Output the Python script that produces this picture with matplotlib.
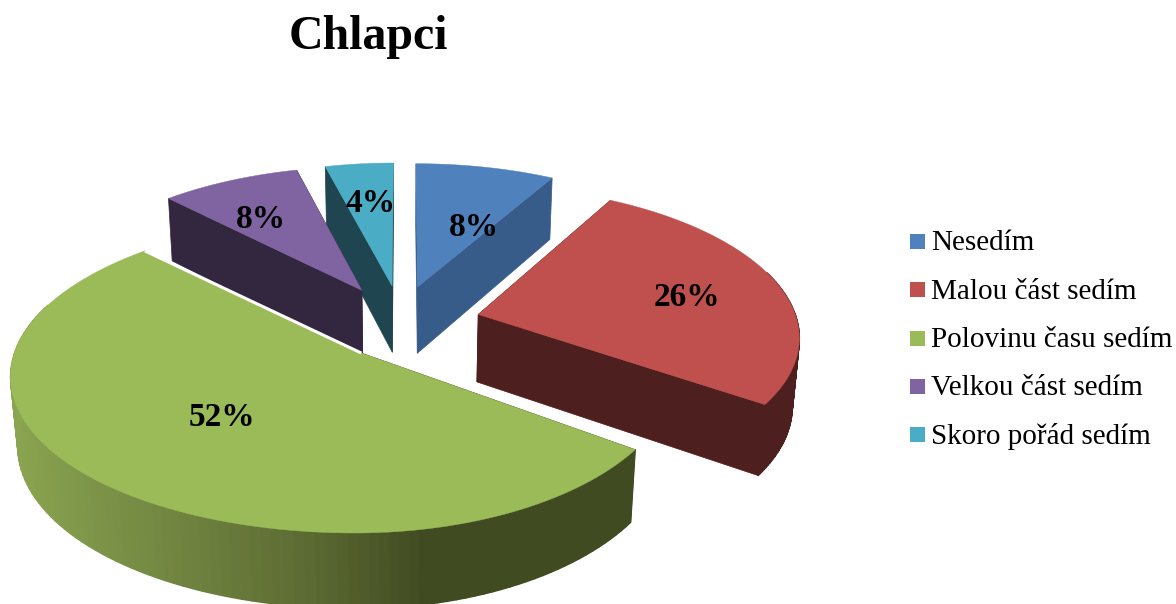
import matplotlib
matplotlib.use('Agg')
import matplotlib.pyplot as plt
from matplotlib.collections import PolyCollection
from matplotlib.patches import Rectangle
import numpy as np

title = 'Chlapci'
categories = ['Nesedím', 'Malou část sedím', 'Polovinu času sedím', 'Velkou část sedím', 'Skoro pořád sedím']
values = [8, 26, 52, 8, 4]

top_colors = ['#4f81bd', '#c0504d', '#9bbb59', '#8064a2', '#4bacc6']
wall_colors = ['#385c89', '#4d1f1e', '#404b21', '#33273f', '#1f4650']

# pie geometry, in pixels of the figure
CX, CY = 403, 323
RX, RY = 338, 148
DEPTH = 69
EXPLODE_Y = 0.26
PERSP = 0.13
PERSP_Z = 0.018
# sideways pull and horizontal rim scale of each slice
explode_x = [0.175, 0.23, 0.185, 0.255, 0.26]
rim_left = [1, 1, 1.0, 0.94, 0.92]
rim_right = [0.94, 0.945, 0.90, 1, 1]

# where each percentage sits
label_x = [474, 687, 222, 261, 371]
label_y = [228, 297, 418, 220, 203]


def project(x, y, z):
    w = 1 + PERSP * y + PERSP_Z * z
    return CX + RX * x / w, CY - RY * y / w + DEPTH * z / w


def green_side(px):
    # side of the big slice goes dark from left to right
    knots = [13, 300, 430]
    r = np.interp(px, knots, [0x8a, 0x5e, 0x40])
    g = np.interp(px, knots, [0xa4, 0x6d, 0x4b])
    b = np.interp(px, knots, [0x50, 0x34, 0x21])
    return (r / 255, g / 255, b / 255)


def drawSlice(ax, n, start, end, gradient=False):
    top = top_colors[n]
    wall = wall_colors[n]
    mid = np.radians((start + end) / 2)
    ox = explode_x[n] * np.sin(mid)
    oy = EXPLODE_Y * np.cos(mid)

    th = np.radians(np.linspace(start, end, 120))
    sn = np.sin(th)
    xs = ox + sn * np.where(sn < 0, rim_left[n], rim_right[n])
    ys = oy + np.cos(th)
    tx, ty = project(xs, ys, 0)
    bx, by = project(xs, ys, 1)
    ax0, ay0 = project(ox, oy, 0)
    ax1, ay1 = project(ox, oy, 1)

    # the two cut faces
    for i in (0, -1):
        ax.fill([ax0, tx[i], bx[i], ax1], [ay0, ty[i], by[i], ay1],
                color=wall, lw=0.5, zorder=1)

    # outer rim, only the part turned towards the viewer
    quads = []
    cols = []
    for i in range(len(th) - 1):
        if np.cos(th[i]) > 0.3:
            continue
        quads.append([(tx[i], ty[i]), (tx[i + 1], ty[i + 1]), (bx[i + 1], by[i + 1]), (bx[i], by[i])])
        cols.append(green_side(tx[i]) if gradient else wall)
    if quads:
        ax.add_collection(PolyCollection(quads, facecolors=cols, edgecolors=cols, linewidths=1.0, zorder=1))

    ax.fill(np.r_[ax0, tx], np.r_[ay0, ty], color=top, lw=0.3, zorder=1)
    return ax0, ay0, tx, ty


fig = plt.figure(figsize=(11.76, 6.04), dpi=100)
ax = fig.add_axes([0, 0, 1, 1])
ax.set_xlim(0, 1176)
ax.set_ylim(604, 0)
ax.axis('off')

plt.rcParams['font.family'] = ['Liberation Serif', 'DejaVu Serif']

edges = np.cumsum([0] + values) / sum(values) * 360

# back slices first so the front ones cover them
for i in [4, 3, 0, 1, 2]:
    res = drawSlice(ax, i, edges[i], edges[i + 1], gradient=(i == 2))
    if i == 2:
        # thin white line between the big slice and the dark wall behind it
        ax.plot([res[0], res[2][-1]], [res[1], res[3][-1]], color='white', lw=2.2,
                solid_capstyle='butt', zorder=2)

ax.text(368, 37, title, fontsize=34.5, fontweight='bold', ha='center', va='center')

for i in range(len(values)):
    ax.text(label_x[i], label_y[i], '%d%%' % values[i], fontsize=24, fontweight='bold',
            ha='center', va='center', zorder=5)

# legend
for i in range(len(categories)):
    y = 241.5 + i * 48.3
    ax.add_patch(Rectangle((910, y - 7.5), 15, 15, color=top_colors[i], lw=0))
    ax.text(931, y + 2, categories[i], fontsize=21, ha='left', va='center')

fig.savefig('out.png', dpi=100)
